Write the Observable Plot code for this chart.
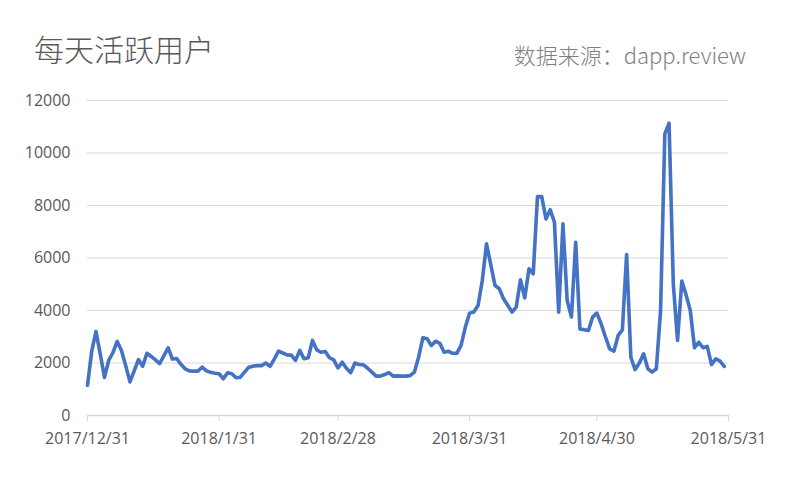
<!DOCTYPE html>
<html><head><meta charset="utf-8">
<script src="https://cdn.jsdelivr.net/npm/d3@7"></script>
<script src="https://cdn.jsdelivr.net/npm/@observablehq/plot@0.6"></script>
<style>
body{margin:0;background:#fff;width:800px;height:486px;overflow:hidden;font-family:"Noto Sans CJK SC","Noto Sans",sans-serif;}
#head{position:relative;height:85px;}
#title{position:absolute;left:34px;top:30px;font-size:30px;font-weight:300;line-height:1.2;color:#595959;}
#source{position:absolute;right:54px;top:41px;font-size:22px;font-weight:300;line-height:1.2;color:#7f7f7f;}
</style></head><body>
<div id="head"><div id="title">每天活跃用户</div><div id="source">数据来源：dapp.review</div></div>
<div id="chart"></div>
<script>
const startDate = "2017-12-31";
const dau = [
1150,2450,3200,2350,1450,2100,2400,2820,2480,1900,
1280,1700,2130,1880,2370,2250,2120,1980,2280,2580,
2150,2170,1950,1780,1700,1690,1690,1840,1700,1650,
1610,1590,1400,1630,1590,1440,1460,1650,1840,1880,
1900,1900,2000,1870,2150,2450,2380,2310,2300,2100,
2480,2160,2200,2860,2500,2410,2440,2200,2120,1810,
2030,1800,1630,2000,1940,1930,1800,1650,1500,1500,
1560,1630,1500,1510,1500,1500,1520,1650,2220,2960,
2920,2670,2830,2750,2410,2450,2370,2370,2670,3360,
3900,3940,4190,5140,6540,5750,4950,4830,4450,4200,
3940,4130,5170,4480,5590,5400,8340,8340,7490,7840,
7360,3940,7300,4380,3750,6600,3300,3270,3240,3750,
3900,3490,3000,2540,2450,3050,3260,6130,2220,1750,
2000,2350,1780,1650,1780,4000,10730,11140,5000,2860,
5120,4600,4000,2580,2790,2580,2630,1940,2160,2070,
1870
];
const yTicks = [0,2000,4000,6000,8000,10000,12000];
const xTickDates = ["2017-12-31","2018-01-31","2018-02-28","2018-03-31","2018-04-30","2018-05-31"];
const xTickLabels = ["2017/12/31","2018/1/31","2018/2/28","2018/3/31","2018/4/30","2018/5/31"];

const start = new Date(startDate + "T00:00:00Z");
const data = dau.map((v, i) => ({date: new Date(start.getTime() + i * 864e5), value: v}));
const ticks = xTickDates.map(s => new Date(s + "T00:00:00Z"));
const labelMap = new Map(ticks.map((d, i) => [+d, xTickLabels[i]]));
const font = "'Open Sans','Noto Sans',sans-serif";

const chart = Plot.plot({
  width: 800, height: 401,
  marginLeft: 87, marginRight: 72, marginTop: 15, marginBottom: 71,
  style: {fontFamily: font, fontSize: "16px", color: "#595959", background: "#fff"},
  x: {type: "utc", domain: [ticks[0], ticks[ticks.length - 1]]},
  y: {domain: [0, 12000]},
  marks: [
    Plot.gridY(yTicks.filter(d => d > 0), {stroke: "#d9d9d9", strokeOpacity: 1, strokeWidth: 1.2}),
    Plot.ruleY([0], {stroke: "#d9d9d9", strokeWidth: 1.5}),
    Plot.axisY(yTicks, {tickSize: 0, tickPadding: 17, tickFormat: d => String(d), label: null, fill: "#595959", fontSize: 16}),
    Plot.axisX(ticks, {tickSize: 6, tickPadding: 11, stroke: "#d9d9d9", fill: "#595959", tickFormat: d => labelMap.get(+d), label: null, fontSize: 16}),
    Plot.line(data, {x: "date", y: "value", stroke: "#4472C4", strokeWidth: 3.6, strokeLinejoin: "round"})
  ]
});
document.getElementById("chart").appendChild(chart);
</script>
</body></html>
